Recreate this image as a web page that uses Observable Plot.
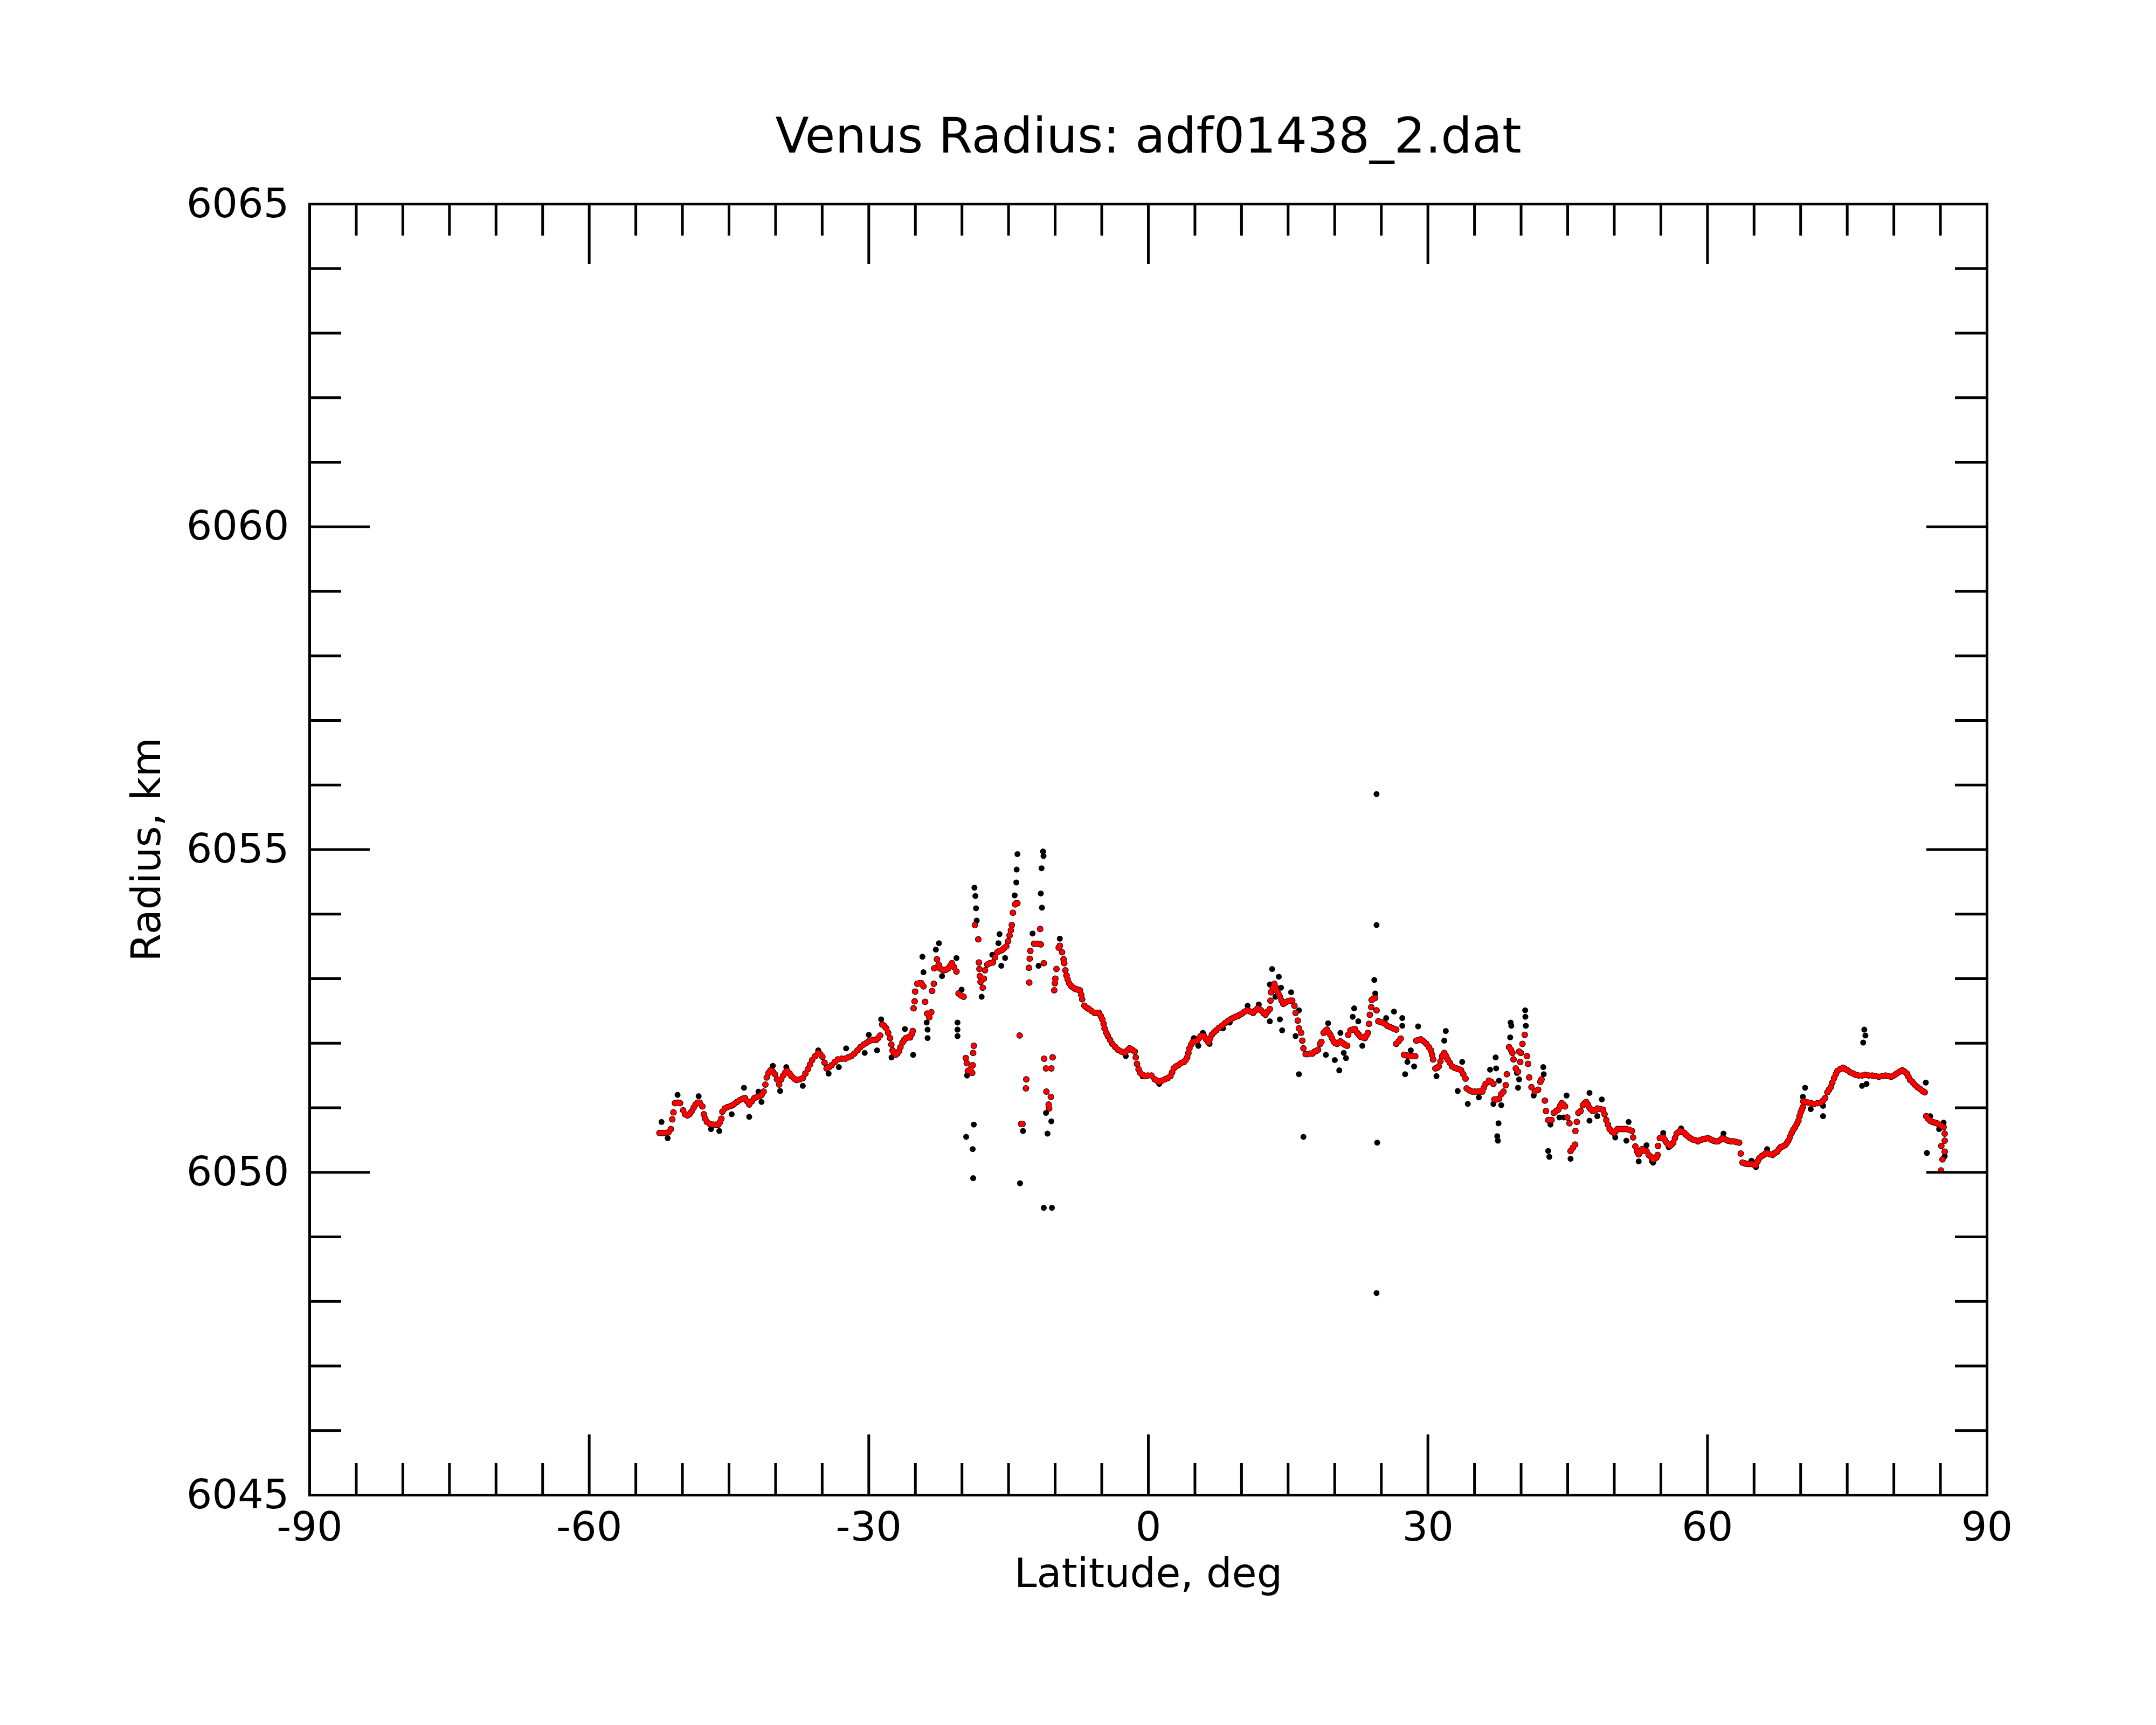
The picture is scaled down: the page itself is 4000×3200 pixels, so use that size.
<!DOCTYPE html>
<html>
<head>
<meta charset="utf-8">
<script src="https://cdn.jsdelivr.net/npm/d3@7"></script>
<script src="https://cdn.jsdelivr.net/npm/@observablehq/plot@0.6"></script>
<style>
  html, body { margin: 0; padding: 0; background: #fff; }
  #chart svg { display: block; }
</style>
</head>
<body>
<div id="chart"></div>
<script>
const titleText = "Venus Radius: adf01438_2.dat";
const xLabelText = "Latitude, deg";
const yLabelText = "Radius, km";

const xDomain = [-90, 90];
const yDomain = [6045, 6065];
const xMajorTicks = [-90, -60, -30, 0, 30, 60, 90];
const xMinorTicks = [-85, -80, -75, -70, -65, -55, -50, -45, -40, -35, -25, -20, -15, -10, -5,
                     5, 10, 15, 20, 25, 35, 40, 45, 50, 55, 65, 70, 75, 80, 85];
const yMajorTicks = [6045, 6050, 6055, 6060, 6065];
const yMinorTicks = [6046, 6047, 6048, 6049, 6051, 6052, 6053, 6054, 6056, 6057, 6058, 6059,
                     6061, 6062, 6063, 6064];

// red series: [latitude, radius]
const smoothedRadius = [
[-52.46,6050.61],[-52.1,6050.61],[-51.8,6050.61],[-51.5,6050.62],[-51.24,6050.67],[-51.09,6050.82],[-50.96,6050.93],[-50.8,6051.07],[-50.5,6051.08],[-50.25,6051.07],
[-49.92,6050.96],[-49.7,6050.9],[-49.47,6050.88],[-49.25,6050.9],[-49.03,6050.94],[-48.8,6051.0],[-48.59,6051.05],[-48.35,6051.08],[-48.15,6051.08],[-47.86,6051.02],
[-47.7,6050.9],[-47.55,6050.83],[-47.37,6050.78],[-47.05,6050.75],[-46.71,6050.74],[-46.4,6050.74],[-46.15,6050.74],[-45.95,6050.78],[-45.82,6050.83],[-45.71,6050.94],
[-45.45,6050.99],[-45.16,6051.01],[-44.8,6051.03],[-44.49,6051.05],[-44.15,6051.09],[-43.83,6051.12],[-43.55,6051.14],[-43.28,6051.15],[-43.05,6051.1],[-42.83,6051.05],
[-42.55,6051.1],[-42.28,6051.15],[-42.0,6051.17],[-41.73,6051.18],[-41.5,6051.2],[-41.28,6051.25],[-41.1,6051.36],[-40.95,6051.47],[-40.75,6051.54],[-40.55,6051.58],
[-40.3,6051.56],[-40.07,6051.52],[-39.85,6051.44],[-39.62,6051.36],[-39.4,6051.44],[-39.18,6051.5],[-38.95,6051.55],[-38.74,6051.57],[-38.5,6051.53],[-38.3,6051.49],
[-38.0,6051.45],[-37.74,6051.43],[-37.4,6051.44],[-37.08,6051.46],[-36.8,6051.53],[-36.53,6051.6],[-36.3,6051.67],[-36.08,6051.74],[-35.75,6051.8],[-35.42,6051.85],
[-35.2,6051.83],[-34.98,6051.79],[-34.75,6051.7],[-34.53,6051.61],[-34.25,6051.63],[-33.98,6051.66],[-33.65,6051.71],[-33.32,6051.75],[-32.9,6051.76],[-32.54,6051.76],
[-32.2,6051.78],[-31.88,6051.8],[-31.55,6051.84],[-31.21,6051.89],[-30.9,6051.94],[-30.55,6051.98],[-30.2,6052.01],[-29.88,6052.04],[-29.55,6052.05],[-29.22,6052.05],
[-29.0,6052.08],[-28.78,6052.12],[-28.56,6052.29],[-28.35,6052.27],[-28.12,6052.23],[-27.92,6052.16],[-27.72,6052.08],[-27.58,6051.98],[-27.45,6051.89],[-27.3,6051.85],
[-27.12,6051.82],[-26.95,6051.84],[-26.79,6051.87],[-26.6,6051.94],[-26.39,6052.01],[-26.2,6052.05],[-26.01,6052.08],[-25.8,6052.09],[-25.57,6052.09],[-25.4,6052.14],
[-25.28,6052.19],[-25.19,6052.54],[-25.08,6052.65],[-25.02,6052.8],[-24.79,6052.92],[-24.55,6052.93],[-24.35,6052.93],[-24.13,6052.88],[-23.95,6052.64],[-23.73,6052.46],
[-23.51,6052.4],[-23.29,6052.48],[-23.2,6052.81],[-23.02,6052.92],[-22.98,6053.16],[-22.69,6053.3],[-22.5,6053.22],[-22.36,6053.16],[-22.15,6053.14],[-21.92,6053.13],
[-21.7,6053.14],[-21.47,6053.16],[-21.25,6053.2],[-21.08,6053.24],[-20.85,6053.18],[-20.59,6053.11],[-20.37,6052.77],[-20.1,6052.74],[-19.82,6052.72],
[-19.59,6051.77],[-19.48,6051.69],[-19.37,6051.57],[-19.1,6051.6],[-18.9,6051.54],[-18.85,6051.66],[-18.8,6051.85],[-18.73,6051.96],
[-18.61,6053.83],[-18.25,6053.61],[-18.18,6053.25],[-18.13,6053.15],[-18.08,6053.04],[-18.01,6052.95],[-17.77,6052.86],[-17.65,6053.0],[-17.53,6053.13],[-17.29,6053.22],
[-17.0,6053.24],[-16.69,6053.25],[-16.45,6053.33],[-16.21,6053.41],[-15.97,6053.43],[-15.73,6053.44],[-15.5,6053.47],[-15.25,6053.5],[-15.05,6053.58],[-14.89,6053.67],
[-14.75,6053.75],[-14.65,6053.83],[-14.53,6054.02],[-14.3,6054.15],[-14.17,6054.17],[-14.05,6054.17],
[-13.81,6052.12],[-13.65,6050.75],[-13.5,6050.75],[-13.14,6051.3],[-13.1,6051.44],
[-12.78,6052.94],[-12.81,6053.17],[-12.73,6053.31],[-12.66,6053.43],[-12.26,6053.54],[-11.9,6053.54],[-11.54,6053.53],[-11.61,6053.77],[-11.22,6053.24],
[-11.18,6051.76],[-10.27,6051.78],[-10.98,6051.61],[-10.41,6051.61],[-10.94,6051.25],[-10.46,6051.17],[-10.7,6051.05],[-10.65,6050.99],
[-10.1,6052.82],[-10.03,6052.93],[-9.98,6053.0],[-9.86,6053.15],[-9.62,6053.48],
[-9.5,6053.51],[-9.26,6053.41],[-9.1,6053.3],[-9.02,6053.24],[-8.9,6053.13],[-8.78,6053.05],[-8.66,6052.99],[-8.5,6052.93],[-8.3,6052.89],[-8.05,6052.86],
[-7.82,6052.84],[-7.58,6052.83],[-7.34,6052.82],[-7.2,6052.75],[-7.1,6052.68],[-6.86,6052.58],[-6.6,6052.55],[-6.38,6052.53],[-6.1,6052.5],[-5.78,6052.47],
[-5.55,6052.47],[-5.3,6052.47],[-5.1,6052.42],[-4.94,6052.37],[-4.8,6052.3],[-4.7,6052.23],[-4.5,6052.16],[-4.34,6052.11],[-4.1,6052.05],[-3.86,6051.99],
[-3.55,6051.94],[-3.26,6051.9],[-2.9,6051.87],[-2.54,6051.85],[-2.25,6051.89],[-2.02,6051.92],[-1.75,6051.9],[-1.46,6051.87],[-1.35,6051.78],[-1.22,6051.68],
[-1.05,6051.6],[-0.86,6051.54],[-0.6,6051.51],[-0.38,6051.49],[-0.05,6051.5],[0.33,6051.5],[0.69,6051.44],[0.95,6051.42],[1.17,6051.4],[1.45,6051.42],
[1.77,6051.44],[2.07,6051.46],[2.37,6051.49],[2.55,6051.55],[2.73,6051.61],[2.97,6051.64],[3.21,6051.66],[3.5,6051.69],[3.81,6051.71],[4.0,6051.74],
[4.17,6051.78],[4.3,6051.85],[4.41,6051.92],[4.6,6051.98],[4.77,6052.02],[5.0,6052.03],[5.25,6052.04],[5.45,6052.08],[5.61,6052.11],[5.8,6052.11],
[5.97,6052.11],[6.2,6052.06],[6.45,6052.01],[6.62,6052.07],[6.81,6052.13],[7.05,6052.17],[7.29,6052.2],[7.6,6052.24],[7.89,6052.27],[8.2,6052.31],
[8.49,6052.34],[8.8,6052.37],[9.09,6052.39],[9.33,6052.41],[9.57,6052.42],[9.8,6052.44],[10.05,6052.46],[10.35,6052.49],[10.65,6052.51],[10.95,6052.49],
[11.25,6052.47],[11.5,6052.51],[11.73,6052.54],[11.9,6052.53],[12.09,6052.51],[12.35,6052.47],[12.57,6052.44],[12.8,6052.49],[13.04,6052.53],[13.1,6052.66],
[13.16,6052.79],[13.35,6052.86],[13.52,6052.92],[13.64,6052.87],[13.76,6052.82],[13.95,6052.77],[14.12,6052.72],[14.3,6052.66],[14.48,6052.61],[14.72,6052.63],
[14.96,6052.65],[15.2,6052.66],[15.44,6052.66],[15.68,6052.58],[15.8,6052.47],[16.04,6052.35],[16.16,6052.23],[16.4,6052.16],[16.52,6052.04],[16.64,6051.92],
[16.88,6051.83],[17.1,6051.83],[17.36,6051.84],[17.61,6051.84],[17.84,6051.87],[18.05,6051.88],[18.21,6051.9],[18.44,6051.99],[18.57,6052.02],[18.81,6052.16],
[19.0,6052.19],[19.17,6052.21],[19.35,6052.17],[19.53,6052.13],[19.7,6052.08],[19.89,6052.03],[20.07,6052.0],[20.25,6051.99],[20.43,6052.01],[20.61,6052.03],
[20.79,6052.01],[20.97,6051.99],[21.15,6051.97],[21.33,6051.96],[21.45,6052.13],[21.69,6052.2],[21.93,6052.21],[22.17,6052.22],[22.41,6052.16],[22.6,6052.13],
[22.77,6052.1],[23.0,6052.09],[23.24,6052.08],[23.4,6052.12],[23.56,6052.16],[23.68,6052.3],[23.77,6052.44],[23.92,6052.56],[23.96,6052.67],[24.15,6052.69],
[24.32,6052.7],[24.49,6052.51],[24.68,6052.34],[24.9,6052.33],[25.16,6052.32],[25.4,6052.3],[25.64,6052.27],[25.95,6052.25],[26.24,6052.23],[26.6,6052.21],
[26.6,6051.99],[26.85,6052.03],[27.08,6052.07],[27.44,6051.82],[27.74,6051.81],[28.04,6051.8],[28.34,6051.8],[28.64,6051.8],[28.76,6052.04],[29.0,6052.05],
[29.24,6052.06],[29.54,6052.03],[29.84,6051.99],[30.1,6051.94],[30.32,6051.89],[30.45,6051.82],[30.56,6051.75],[30.8,6051.61],[31.0,6051.62],[31.16,6051.64],
[31.35,6051.72],[31.52,6051.8],[31.76,6051.85],[31.95,6051.8],[32.12,6051.75],[32.35,6051.7],[32.6,6051.64],[32.85,6051.62],[33.08,6051.61],[33.3,6051.6],
[33.56,6051.58],[33.8,6051.52],[34.04,6051.45],[34.16,6051.3],[34.45,6051.27],[34.76,6051.25],[35.06,6051.25],[35.36,6051.25],[35.6,6051.25],[35.84,6051.25],
[36.0,6051.31],[36.19,6051.37],[36.55,6051.42],[36.8,6051.4],[37.03,6051.37],[37.15,6051.13],[37.4,6051.13],[37.63,6051.14],[37.87,6051.21],[38.11,6051.25],
[38.35,6051.35],[38.47,6051.52],[38.71,6051.94],[38.9,6051.9],[39.07,6051.85],[39.19,6051.75],[39.43,6051.61],[39.67,6051.56],[39.79,6051.87],[39.91,6051.71],
[39.98,6051.85],[40.15,6051.99],[40.39,6052.13],[40.63,6051.8],[40.75,6051.68],[40.87,6051.47],[41.11,6051.32],[41.47,6051.25],[41.83,6051.28],[42.07,6051.4],
[42.19,6051.44],[42.55,6051.11],[42.67,6050.95],[42.91,6050.81],[43.27,6050.81],[43.51,6050.92],[43.75,6050.95],[43.99,6050.97],[44.17,6051.02],[44.35,6051.07],
[44.53,6051.05],[44.71,6051.02],[44.95,6050.85],[45.19,6050.76],[45.31,6050.33],[45.55,6050.38],[45.79,6050.43],[45.83,6050.64],[45.98,6050.78],[46.15,6050.92],
[46.39,6050.95],[46.63,6051.04],[46.81,6051.07],[46.99,6051.09],[47.17,6051.05],[47.34,6051.0],[47.52,6050.97],[47.7,6050.95],[47.95,6050.96],[48.18,6050.99],
[48.5,6050.98],[48.78,6050.97],[48.96,6050.9],[49.14,6050.81],[49.32,6050.74],[49.5,6050.67],[49.74,6050.63],[49.98,6050.61],[50.16,6050.64],[50.34,6050.67],
[50.58,6050.67],[50.82,6050.67],[51.06,6050.67],[51.3,6050.67],[51.6,6050.66],[51.9,6050.64],[52.02,6050.54],[52.26,6050.4],[52.44,6050.33],[52.62,6050.28],
[52.8,6050.32],[52.98,6050.36],[53.21,6050.34],[53.46,6050.33],[53.69,6050.27],[53.94,6050.24],[54.17,6050.2],[54.35,6050.21],[54.53,6050.23],[54.65,6050.27],
[54.7,6050.41],[54.89,6050.53],[55.07,6050.54],[55.25,6050.54],[55.43,6050.5],[55.61,6050.46],[55.79,6050.43],[55.97,6050.41],[56.15,6050.43],[56.33,6050.46],
[56.51,6050.53],[56.69,6050.6],[56.87,6050.62],[57.05,6050.64],[57.29,6050.63],[57.53,6050.61],[57.71,6050.58],[57.89,6050.56],[58.13,6050.53],[58.37,6050.51],
[58.67,6050.5],[58.97,6050.48],[59.21,6050.5],[59.45,6050.51],[59.75,6050.52],[60.04,6050.53],[60.34,6050.51],[60.64,6050.49],[60.88,6050.48],[61.12,6050.48],
[61.36,6050.5],[61.6,6050.53],[61.9,6050.51],[62.2,6050.49],[62.5,6050.48],[62.8,6050.48],[63.1,6050.47],[63.4,6050.46],[63.57,6050.29],[63.76,6050.15],
[64.0,6050.14],[64.24,6050.13],[64.48,6050.13],[64.72,6050.13],[64.96,6050.12],[65.2,6050.11],[65.38,6050.17],[65.56,6050.22],[65.8,6050.25],[66.04,6050.27],
[66.22,6050.29],[66.4,6050.3],[66.7,6050.28],[67.0,6050.27],[67.24,6050.3],[67.48,6050.32],[67.66,6050.36],[67.84,6050.39],[68.08,6050.4],[68.32,6050.42],
[68.5,6050.45],[68.68,6050.49],[68.86,6050.55],[69.04,6050.61],[69.22,6050.66],[69.4,6050.7],[69.58,6050.75],[69.76,6050.8],[69.88,6050.87],[70.0,6050.93],
[70.12,6050.97],[70.24,6051.01],[70.28,6051.1],[70.55,6051.09],[70.84,6051.08],[71.14,6051.07],[71.44,6051.06],[71.8,6051.07],[72.16,6051.08],[72.4,6051.11],
[72.63,6051.15],[72.87,6051.24],[73.05,6051.28],[73.23,6051.32],[73.4,6051.39],[73.59,6051.46],[73.77,6051.52],[73.95,6051.57],[74.25,6051.6],[74.55,6051.62],
[74.79,6051.6],[75.03,6051.58],[75.33,6051.55],[75.63,6051.53],[75.93,6051.51],[76.23,6051.5],[76.59,6051.5],[76.95,6051.51],[77.31,6051.5],[77.67,6051.5],
[78.03,6051.49],[78.39,6051.48],[78.75,6051.49],[79.11,6051.5],[79.41,6051.49],[79.71,6051.48],[80.0,6051.5],[80.31,6051.53],[80.61,6051.56],[80.91,6051.58],
[81.15,6051.56],[81.39,6051.53],[81.57,6051.48],[81.75,6051.43],[81.99,6051.4],[82.23,6051.36],[82.53,6051.32],[82.83,6051.29],[83.07,6051.26],[83.31,6051.24],
[83.47,6050.87],[83.68,6050.83],[83.9,6050.8],[84.14,6050.78],[84.38,6050.77],[84.62,6050.76],[84.86,6050.74],[85.1,6050.72],[85.34,6050.7],[85.46,6050.6],
[85.46,6050.49],[85.1,6050.41],[85.46,6050.32],[85.22,6050.2],[85.06,6050.03]
];

// black series (raw points that stand apart from the red track): [latitude, radius]
const rawRadius = [
[-52.24,6050.78],[-51.58,6050.53],[-50.52,6051.2],[-48.26,6051.18],[-46.93,6050.67],[-46.04,6050.64],[-44.71,6050.9],[-43.39,6051.31],[-42.83,6050.86],[-41.84,6051.25],
[-41.51,6051.09],[-40.29,6051.65],[-39.51,6051.26],[-38.85,6051.63],[-37.08,6051.34],[-35.42,6051.89],[-34.31,6051.53],[-33.21,6051.63],[-32.43,6051.92],[-30.44,6051.85],
[-30.0,6052.13],[-29.11,6051.89],[-28.67,6052.37],[-27.56,6051.78],[-26.12,6052.22],[-25.24,6051.82],[-24.24,6053.34],[-24.13,6053.1],[-23.79,6052.32],[-23.69,6052.21],
[-23.69,6052.08],[-22.8,6053.45],[-22.47,6053.55],[-22.14,6053.04],[-20.59,6053.32],[-20.48,6052.32],[-20.48,6052.21],[-20.48,6052.11],[-20.04,6052.83],
[-19.55,6050.55],[-18.73,6050.74],[-18.85,6050.36],[-18.8,6049.91],[-19.45,6051.5],
[-18.66,6054.41],[-18.56,6054.28],[-18.49,6054.09],[-18.42,6053.9],[-17.89,6052.72],[-15.97,6053.69],[-16.09,6053.55],[-16.74,6053.37],[-15.78,6053.2],[-15.37,6053.32],
[-14.05,6054.93],[-14.13,6054.69],[-14.17,6054.49],[-14.34,6054.29],[-13.45,6050.64],[-13.77,6049.83],[-12.42,6053.7],[-11.78,6053.2],[-11.3,6054.97],[-11.25,6054.9],
[-11.46,6054.71],[-11.54,6054.32],[-11.42,6054.1],[-10.98,6050.92],[-10.41,6050.79],[-10.82,6050.6],[-11.22,6049.45],[-10.35,6049.45],[-9.5,6053.62],[-2.42,6051.8],
[1.17,6051.37],[-0.62,6051.49],[13.28,6053.15],[14.0,6053.03],[13.04,6052.91],[13.64,6052.72],[14.24,6052.86],[15.32,6052.79],[16.16,6052.51],[14.12,6052.37],
[14.36,6052.2],[15.8,6052.11],[16.16,6051.52],[16.64,6050.55],[10.65,6052.58],[11.85,6052.6],[13.04,6052.34],[8.73,6052.32],[8.01,6052.23],[4.89,6052.08],
[5.37,6051.96],[5.85,6052.16],[6.57,6051.99],
[24.49,6055.86],[24.49,6053.83],[24.25,6052.98],[24.35,6052.77],[24.56,6050.46],[24.49,6048.13],
[19.29,6052.31],[19.05,6051.82],[20.01,6051.74],[20.49,6051.58],[20.61,6052.16],[21.21,6051.77],[20.97,6051.85],[22.09,6052.54],[21.93,6052.41],[22.53,6052.34],
[22.96,6051.96],[26.36,6052.49],[25.52,6052.39],[27.25,6052.39],[27.25,6052.27],[27.56,6051.52],[27.8,6051.71],[28.52,6051.64],[28.16,6051.89],[28.95,6052.26],
[31.92,6052.19],[31.76,6052.04],[30.92,6051.49],[33.68,6051.71],[33.2,6051.26],[34.28,6051.06],[35.47,6051.16],[36.67,6051.59],[37.27,6051.78],[37.32,6051.61],
[37.63,6051.42],[37.03,6051.06],[37.87,6051.04],[37.58,6050.76],[37.44,6050.56],[37.51,6050.49],[38.88,6052.32],[38.95,6052.27],[38.83,6052.09],[39.55,6051.54],
[39.79,6051.44],[39.67,6051.31],[40.44,6052.51],[40.46,6052.41],[40.51,6052.27],[42.38,6051.63],[42.43,6051.52],[41.35,6051.19],[42.91,6050.33],[43.03,6050.24],
[44.88,6051.19],[44.11,6050.85],[44.59,6050.85],[43.15,6050.74],[45.31,6050.21],[47.34,6051.23],[47.34,6050.8],[48.66,6051.13],[48.18,6050.87],[50.1,6050.54],
[51.54,6050.78],[51.3,6050.49],[52.62,6050.17],[54.06,6050.17],[53.46,6050.42],
[70.48,6051.31],[70.24,6051.17],[71.08,6050.98],[72.4,6051.03],[72.4,6050.87],[76.83,6052.21],[76.95,6052.12],[76.71,6052.01],[76.59,6051.34],[77.07,6051.37],
[83.43,6051.39],[83.19,6051.25],[83.55,6050.3],[85.46,6050.25],[84.86,6050.67],[85.34,6050.77],[55.25,6050.61],[57.17,6050.68],[61.72,6050.6],[64.72,6050.18],
[65.2,6050.08],[66.4,6050.36],[54.17,6050.15],[55.85,6050.39],[83.9,6050.87]
];

const W = 4000, H = 3200;
const mL = 574, mR = 314, mT = 378, mB = 427;
const frameW = W - mL - mR, frameH = H - mT - mB;
const majorLen = 112, minorLen = 59, lw = 5;
const font = "DejaVu Sans";

const lat = d => d[0], rad = d => d[1];

const chart = Plot.plot({
  width: W,
  height: H,
  marginLeft: mL, marginRight: mR, marginTop: mT, marginBottom: mB,
  style: { fontFamily: font, background: "#fff", color: "#000", overflow: "visible" },
  x: { domain: xDomain },
  y: { domain: yDomain },
  marks: [
    // raw (black) points: mostly hidden under the red track, visible where they stand apart
    Plot.dot(smoothedRadius, { x: lat, y: rad, r: 6, fill: "#000", stroke: "none" }),
    Plot.dot(rawRadius, { x: lat, y: rad, r: 5.5, fill: "#000", stroke: "none" }),
    // smoothed (red) points
    Plot.dot(smoothedRadius, { x: lat, y: rad, r: 5, fill: "#ff0000", stroke: "none" }),
    // inward ticks
    Plot.ruleX(xMajorTicks, { x: d => d, insetTop: frameH - majorLen, stroke: "#000", strokeWidth: lw }),
    Plot.ruleX(xMajorTicks, { x: d => d, insetBottom: frameH - majorLen, stroke: "#000", strokeWidth: lw }),
    Plot.ruleX(xMinorTicks, { x: d => d, insetTop: frameH - minorLen, stroke: "#000", strokeWidth: lw }),
    Plot.ruleX(xMinorTicks, { x: d => d, insetBottom: frameH - minorLen, stroke: "#000", strokeWidth: lw }),
    Plot.ruleY(yMajorTicks, { y: d => d, insetRight: frameW - majorLen, stroke: "#000", strokeWidth: lw }),
    Plot.ruleY(yMajorTicks, { y: d => d, insetLeft: frameW - majorLen, stroke: "#000", strokeWidth: lw }),
    Plot.ruleY(yMinorTicks, { y: d => d, insetRight: frameW - minorLen, stroke: "#000", strokeWidth: lw }),
    Plot.ruleY(yMinorTicks, { y: d => d, insetLeft: frameW - minorLen, stroke: "#000", strokeWidth: lw }),
    Plot.frame({ stroke: "#000", strokeWidth: lw }),
    // tick labels
    Plot.axisX(xMajorTicks, { anchor: "bottom", tickSize: 0, tickPadding: 31, fontSize: 75, fill: "#000",
                              tickFormat: d => String(d), label: null }),
    Plot.axisY(yMajorTicks, { anchor: "left", tickSize: 0, tickPadding: 38, fontSize: 75, fill: "#000",
                              tickFormat: d => String(d), label: null }),
    // titles
    Plot.text([titleText], { text: d => d, frameAnchor: "top", textAnchor: "middle", dy: -96,
                             lineAnchor: "bottom", fontSize: 91, fill: "#000" }),
    Plot.text([xLabelText], { text: d => d, frameAnchor: "bottom", textAnchor: "middle", dy: 170,
                              lineAnchor: "bottom", fontSize: 75, fill: "#000" }),
    Plot.text([yLabelText], { text: d => d, frameAnchor: "left", textAnchor: "middle", dx: -278, rotate: -90,
                              lineAnchor: "bottom", fontSize: 75, fill: "#000" })
  ]
});

document.getElementById("chart").appendChild(chart);
</script>
</body>
</html>
